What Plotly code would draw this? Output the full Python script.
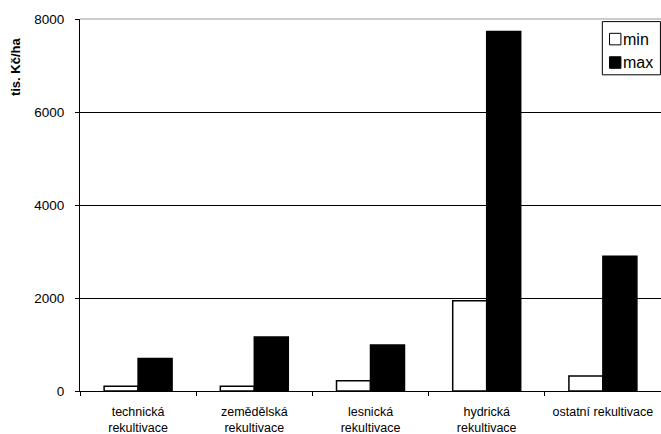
import plotly.graph_objects as go

categories = [
    "technická<br>rekultivace",
    "zemědělská<br>rekultivace",
    "lesnická<br>rekultivace",
    "hydrická<br>rekultivace",
    "ostatní rekultivace",
]
min_values = [100, 100, 220, 1940, 320]
max_values = [700, 1160, 990, 7730, 2900]
y_ticks = [0, 2000, 4000, 6000, 8000]
series_names = ["min", "max"]
series_fill = ["white", "black"]

FONT = "Liberation Sans, Arial, sans-serif"

fig = go.Figure()
for name, values, fill in zip(series_names, [min_values, max_values], series_fill):
    fig.add_trace(go.Bar(
        x=categories, y=values, name=name,
        marker=dict(color=fill, line=dict(color="black", width=1.5)),
    ))

# Hand-built legend box: black frame, square swatches, labels right beside them
legend_shapes = [dict(
    type="rect", xref="paper", yref="paper",
    x0=0.899, x1=0.999, y0=0.85, y1=0.993,
    line=dict(color="black", width=1), fillcolor="white", layer="above",
)]
legend_notes = []
legend_rows = [0.946, 0.883]
for yc, name, fill in zip(legend_rows, series_names, series_fill):
    legend_shapes.append(dict(
        type="rect", xref="paper", yref="paper",
        x0=0.9114, x1=0.931, y0=yc - 0.0155, y1=yc + 0.0155,
        line=dict(color="black", width=1), fillcolor=fill, layer="above",
    ))
    legend_notes.append(dict(
        text=name, xref="paper", yref="paper", x=0.932, y=yc,
        xanchor="left", yanchor="middle", showarrow=False,
        font=dict(size=16),
    ))

fig.update_layout(
    width=661, height=434,
    margin=dict(l=80, r=0, t=19, b=43),
    paper_bgcolor="white", plot_bgcolor="white",
    barmode="group", bargap=0.415, bargroupgap=0,
    font=dict(family=FONT, size=12, color="black"),
    showlegend=False,
    xaxis=dict(
        type="category", showline=True, linecolor="black", linewidth=1,
        ticks="outside", ticklen=4, tickcolor="black", tickson="boundaries",
        showgrid=False, tickfont=dict(size=12.5), ticklabelstandoff=9,
    ),
    yaxis=dict(
        range=[0, 8000], tickvals=y_ticks, showline=True, linecolor="black",
        linewidth=1, ticks="outside", ticklen=4, tickcolor="black",
        showgrid=True, gridcolor="black", gridwidth=1, zeroline=False,
        tickfont=dict(size=13.5), ticklabelstandoff=8,
    ),
    annotations=[dict(
        text="<b>tis. Kč/ha</b>", textangle=-90, xref="paper", yref="paper",
        x=-0.110, y=0.871, showarrow=False, font=dict(size=13),
        xanchor="center", yanchor="middle",
    )] + legend_notes,
    shapes=[dict(
        type="line", xref="paper", yref="paper", x0=0, x1=1, y0=1, y1=1,
        line=dict(color="#999999", width=1),
    )] + legend_shapes,
)

fig.write_html("out.html")
